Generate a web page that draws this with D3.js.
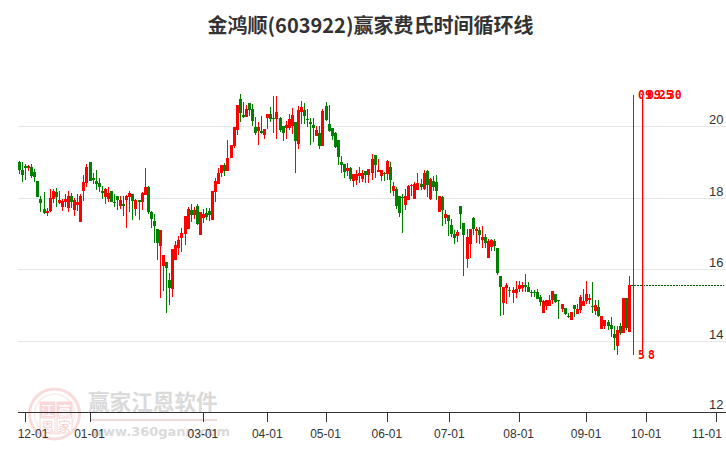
<!DOCTYPE html>
<html><head><meta charset="utf-8">
<script src="https://cdn.jsdelivr.net/npm/d3@7"></script>
<style>html,body{margin:0;padding:0;background:#fff}svg{display:block}</style>
</head><body><svg id="c" width="726" height="450"></svg>
<script>
const titleText = "金鸿顺(603922)赢家费氏时间循环线";
const open = [
19.00,18.78,18.89,18.85,18.87,18.73,18.48,17.97,17.69,17.58,
17.64,17.97,18.17,17.86,17.75,17.89,17.72,18.06,17.67,17.81,
17.33,18.20,18.42,19.00,18.56,18.48,18.42,18.20,18.03,17.97,
18.20,17.89,18.06,17.78,17.83,17.95,18.04,18.11,17.69,17.95,
17.89,18.08,18.31,17.61,17.36,17.14,16.66,16.10,16.22,15.71,
15.46,16.27,16.60,16.88,17.00,17.14,17.67,17.53,17.78,16.97,
17.44,17.58,17.64,17.39,18.17,18.39,18.70,18.92,18.76,19.12,
19.45,19.90,20.76,20.32,20.26,20.65,20.48,19.98,19.87,19.87,
19.76,20.23,20.34,20.23,20.20,20.23,20.01,19.95,19.95,20.01,
20.12,19.51,20.40,20.46,20.20,20.12,20.04,19.73,19.81,19.45,
20.57,20.07,19.95,19.81,19.62,19.00,18.95,18.75,18.84,18.48,
18.50,18.61,18.53,18.75,18.64,18.70,19.20,18.73,18.61,18.70,
18.67,18.87,18.20,18.25,18.06,18.03,17.81,17.95,18.34,17.97,
18.22,18.39,18.25,18.75,17.97,18.48,18.45,17.61,18.03,17.44,
17.53,17.25,17.00,16.94,17.78,17.30,16.30,16.72,17.44,17.08,
17.11,16.83,16.91,16.33,16.63,16.80,16.60,15.82,15.07,15.49,
15.43,15.35,15.35,15.46,15.49,15.57,15.52,15.38,15.38,15.38,
15.24,14.79,14.99,14.99,15.15,15.32,15.15,14.90,14.93,14.71,
14.60,15.01,14.76,14.88,14.99,15.13,15.15,14.99,14.85,14.96,
14.35,14.43,14.54,14.46,14.21,13.87,14.43,14.23,15.21,14.26];
const close = [
18.78,18.64,18.85,18.89,18.61,18.59,18.03,17.86,17.58,17.64,
18.00,18.20,18.03,17.95,17.92,17.97,18.06,17.89,17.95,17.89,
18.06,18.45,18.87,18.48,18.50,18.39,18.31,18.14,18.25,18.14,
17.89,17.86,17.95,17.95,17.78,18.06,18.14,17.92,17.95,17.89,
18.14,18.31,17.61,17.41,17.22,16.74,17.11,16.41,16.05,15.49,
16.58,16.69,16.83,17.02,17.50,17.69,17.53,17.67,17.28,17.61,
17.55,17.47,17.53,18.20,18.48,18.70,18.92,18.75,19.13,19.48,
19.98,20.60,20.37,20.26,20.48,20.46,20.15,19.81,19.98,19.81,
19.93,20.34,20.20,20.20,20.40,19.90,19.81,20.04,20.20,20.32,
19.59,20.46,20.54,20.29,20.18,20.07,19.95,19.90,19.45,20.43,
20.18,19.87,19.73,19.42,19.14,18.92,18.73,18.84,18.53,18.67,
18.67,18.70,18.70,18.64,18.81,19.09,18.92,18.78,18.78,18.67,
19.03,18.50,18.34,17.78,17.58,18.00,18.06,18.34,18.36,18.39,
18.42,18.31,18.70,18.36,18.53,18.31,18.20,18.06,17.67,17.55,
17.36,17.00,16.88,17.05,17.55,16.97,16.91,17.14,17.14,17.14,
16.97,16.91,16.74,16.80,16.83,16.66,15.91,15.52,15.52,15.57,
15.41,15.43,15.46,15.57,15.57,15.52,15.38,15.35,15.35,15.18,
15.10,15.13,15.15,15.15,15.41,15.10,15.13,15.04,14.76,14.68,
14.82,14.90,14.90,15.24,15.13,15.32,15.21,14.96,15.01,14.71,
14.71,14.60,14.43,14.35,14.09,14.32,14.23,15.21,14.37,15.57];
const high = [
19.03,19.00,18.95,18.92,18.95,18.81,18.48,18.06,18.17,17.72,
18.25,18.25,18.28,18.20,17.97,18.11,18.20,18.14,18.00,18.11,
18.11,18.64,18.95,19.00,18.70,18.78,18.56,18.34,18.28,18.31,
18.20,18.10,18.06,18.06,18.06,18.08,18.20,18.11,17.97,17.95,
18.17,18.84,18.34,17.64,17.55,17.14,17.11,16.41,16.22,15.91,
16.58,16.80,16.94,17.16,17.50,17.75,17.83,17.75,17.83,17.61,
17.69,17.72,17.72,18.20,18.56,18.84,18.92,18.98,19.62,19.48,
19.98,20.60,20.90,20.68,20.60,20.65,20.62,20.26,20.12,20.29,
19.93,20.34,20.54,20.85,20.85,20.26,20.01,20.15,20.34,20.51,
20.12,20.57,20.71,20.65,20.48,20.23,20.23,20.01,20.01,20.48,
20.68,20.60,19.95,19.84,19.62,19.17,18.95,18.98,18.87,18.67,
18.78,18.87,18.78,18.75,18.81,19.23,19.20,19.09,18.78,18.73,
19.06,19.00,18.45,18.31,18.06,18.11,18.25,18.36,18.39,18.45,
18.70,18.53,18.78,18.78,18.56,18.61,18.64,18.06,18.06,17.67,
17.53,17.41,17.11,17.11,17.78,17.30,17.14,17.14,17.47,17.19,
17.19,17.22,17.00,16.86,16.86,16.86,16.60,15.82,15.52,15.63,
15.52,15.52,15.68,15.68,15.65,15.88,15.65,15.43,15.43,15.46,
15.29,15.15,15.15,15.29,15.41,15.32,15.15,15.04,14.93,14.79,
14.82,15.01,15.04,15.29,15.46,15.68,15.32,15.65,15.15,15.15,
14.71,14.60,14.60,14.68,14.43,14.43,14.51,15.21,15.21,15.82];
const low = [
18.67,18.45,18.51,18.75,18.57,18.45,18.03,17.61,17.55,17.50,
17.61,17.86,17.76,17.83,17.64,17.75,17.61,17.72,17.50,17.64,
17.33,17.92,18.31,18.48,18.39,18.22,18.17,17.97,17.83,17.89,
17.89,17.76,17.67,17.69,17.50,17.16,17.61,17.39,17.50,17.39,
17.67,18.08,17.55,17.16,16.74,16.27,15.21,15.41,14.79,15.01,
15.24,16.27,16.41,16.49,16.69,17.14,17.33,17.41,17.25,16.97,
17.30,17.39,17.36,17.39,17.89,18.39,18.59,18.61,18.75,19.12,
19.40,19.76,20.12,20.23,20.26,20.29,20.01,19.76,19.48,19.79,
19.65,19.93,20.12,19.81,19.65,19.84,19.59,19.65,19.90,19.79,
18.70,19.37,20.07,20.08,19.98,19.48,19.56,19.73,19.37,19.45,
20.15,19.84,19.62,19.40,18.92,18.70,18.56,18.61,18.48,18.31,
18.36,18.42,18.45,18.42,18.42,18.50,18.56,18.73,18.48,18.48,
18.50,18.14,18.06,17.69,17.47,17.02,17.67,17.95,18.06,17.97,
18.22,18.22,18.22,18.03,17.95,18.20,17.95,17.61,17.22,17.28,
16.94,16.91,16.72,16.77,17.14,15.82,16.05,16.33,16.97,16.74,
16.72,16.60,16.60,16.33,16.52,16.52,15.85,14.71,14.74,15.04,
15.24,15.07,15.21,15.38,15.38,15.38,15.38,15.24,15.24,15.18,
14.99,14.79,14.88,14.99,15.04,15.07,14.62,14.82,14.74,14.65,
14.60,14.68,14.76,14.79,14.99,15.04,15.04,14.79,14.74,14.68,
14.35,14.35,14.32,14.12,13.76,13.62,14.18,14.23,14.32,14.26];

const yTickValues = [20,18,16,14,12];
const xTickLabels = ["12-01","01-01","03-01","04-01","05-01","06-01","07-01","08-01","09-01","10-01","11-01"];
const xTickIndex = [2,23,60,81,100,120,140.4,163,185,204.6,227.4];
const cycleIndex = [200.4,203.4];
const cycleTopLabels = ["09.25","09.30"];
const cycleBottomLabels = ["5","8"];
const lastPrice = 15.57;
const priceTop = 20.88, priceBottom = 13.62;

const svg = d3.select("#c");
const W = 726;
const x = d3.scaleLinear().domain([0,199]).range([19,629]);
const y = d3.scaleLinear().domain([20,14]).range([126.4,341.4]);
const yGrid = v => Math.floor(y(v)) + 0.5;
const px = i => Math.round(x(i));
const red = "#ff0000", green = "#008000", ink = "#333";
const sans = "'Liberation Sans',Arial,sans-serif";
const cjk = "'Noto Sans CJK SC','Noto Sans',sans-serif";

// watermark
const wm = svg.append("g");
wm.append("circle").attr("cx",54.5).attr("cy",414).attr("r",25).attr("fill","none").attr("stroke","#f8dcdc").attr("stroke-width",3);
wm.append("circle").attr("cx",54.5).attr("cy",414).attr("r",20).attr("fill","none").attr("stroke","#fbeaea").attr("stroke-width",1.5);
const boxes = [["江",40,402,true],["赢",57,402,true],["恩",40,418,false],["家",57,418,false]];
boxes.forEach(([t,bx,by,filled])=>{
  wm.append("rect").attr("x",bx).attr("y",by).attr("width",15).attr("height",15)
    .attr("fill",filled?"#f7d8d8":"#fff").attr("stroke","#f7d8d8");
  wm.append("text").attr("x",bx+7.5).attr("y",by+12.5).attr("text-anchor","middle")
    .attr("font-family",cjk).attr("font-size",13).attr("fill",filled?"#fff":"#f5d0d0").text(t);
});
wm.append("text").attr("x",88).attr("y",410).attr("font-family",cjk).attr("font-weight",700)
  .attr("font-size",21.6).attr("fill","#dadada").text("赢家江恩软件");
wm.append("rect").attr("x",90).attr("y",419).attr("width",127).attr("height",2).attr("fill","#eed9d9");
wm.append("text").attr("x",91).attr("y",436).attr("font-family","'DejaVu Sans',sans-serif").attr("font-weight",700)
  .attr("font-size",13).attr("fill","#dadada").text("www.360gann.com");

// grid
svg.append("g").selectAll("line").data(yTickValues.slice(0,4)).join("line")
  .attr("x1",18).attr("x2",W).attr("y1",yGrid).attr("y2",yGrid)
  .attr("stroke","#e5e5e5").attr("stroke-width",1);

// candles
const idx = d3.range(open.length);
const g = svg.append("g").attr("shape-rendering","crispEdges");
const col = i => close[i] >= open[i] ? red : green;
g.selectAll("rect.w").data(idx).join("rect").attr("class","w")
  .attr("x",px).attr("width",1)
  .attr("y",i=>Math.round(y(high[i])))
  .attr("height",i=>Math.max(1,Math.round(y(low[i]))-Math.round(y(high[i]))))
  .attr("fill",col);
g.selectAll("rect.b").data(idx).join("rect").attr("class","b")
  .attr("x",i=>px(i)-1).attr("width",3)
  .attr("y",i=>Math.round(y(Math.max(open[i],close[i]))))
  .attr("height",i=>Math.max(1,Math.round(y(Math.min(open[i],close[i])))-Math.round(y(Math.max(open[i],close[i])))))
  .attr("fill",col);

// last price dotted line
const ly = Math.round(y(lastPrice))+0.5;
[[px(199)+2,680],[681,724]].forEach(([a,b])=>{
  svg.append("line").attr("x1",a).attr("x2",b).attr("y1",ly).attr("y2",ly)
    .attr("stroke","#005a00").attr("stroke-width",1).attr("stroke-dasharray","2 1").attr("shape-rendering","crispEdges");
});

// cycle lines
cycleIndex.forEach((c,k)=>{
  const cx = px(c)+0.5;
  if(k===1) svg.append("line").attr("x1",cx+1).attr("x2",cx+1).attr("y1",y(priceTop)).attr("y2",y(priceBottom))
      .attr("stroke","#ffb0b0").attr("stroke-width",1).attr("shape-rendering","crispEdges");
  svg.append("line").attr("x1",cx).attr("x2",cx).attr("y1",y(priceTop)).attr("y2",y(priceBottom))
    .attr("stroke",red).attr("stroke-width",1).attr("shape-rendering","crispEdges");
  svg.append("text").attr("x",px(c)+5).attr("y",98.5).attr("font-family","'DejaVu Sans Mono',monospace")
    .attr("font-weight",700).attr("font-size",11.5).attr("fill",red).text(cycleTopLabels[k]);
  svg.append("text").attr("x",px(c)+5+k).attr("y",359).attr("font-family","'DejaVu Sans Mono',monospace")
    .attr("font-weight",700).attr("font-size",11.5).attr("fill",red).text(cycleBottomLabels[k]);
});

// x axis
const axisY = 412.5;
svg.append("line").attr("x1",18).attr("x2",W).attr("y1",axisY).attr("y2",axisY).attr("stroke",ink).attr("stroke-width",1);
const xt = svg.append("g");
xt.selectAll("line").data(xTickIndex).join("line")
  .attr("x1",i=>Math.round(x(i))+0.5).attr("x2",i=>Math.round(x(i))+0.5)
  .attr("y1",412).attr("y2",422).attr("stroke",ink).attr("stroke-width",1);
xt.selectAll("text").data(xTickLabels).join("text")
  .attr("x",(d,k)=>Math.min(707,Math.max(33,x(xTickIndex[k]))))
  .attr("y",438).attr("text-anchor","middle").attr("font-family",sans).attr("font-size",12).attr("fill",ink).text(d=>d);

// y labels
svg.append("g").selectAll("text").data(yTickValues).join("text")
  .attr("x",723.5).attr("y",(d,k)=>d===12?409:y(d)-2.5).attr("text-anchor","end")
  .attr("font-family",sans).attr("font-size",13).attr("fill",ink).text(d=>d);

// title
svg.append("text").attr("x",370.5).attr("y",33).attr("text-anchor","middle")
  .attr("font-family",cjk).attr("font-weight",700).attr("font-size",20).attr("fill",ink).text(titleText);
</script></body></html>
